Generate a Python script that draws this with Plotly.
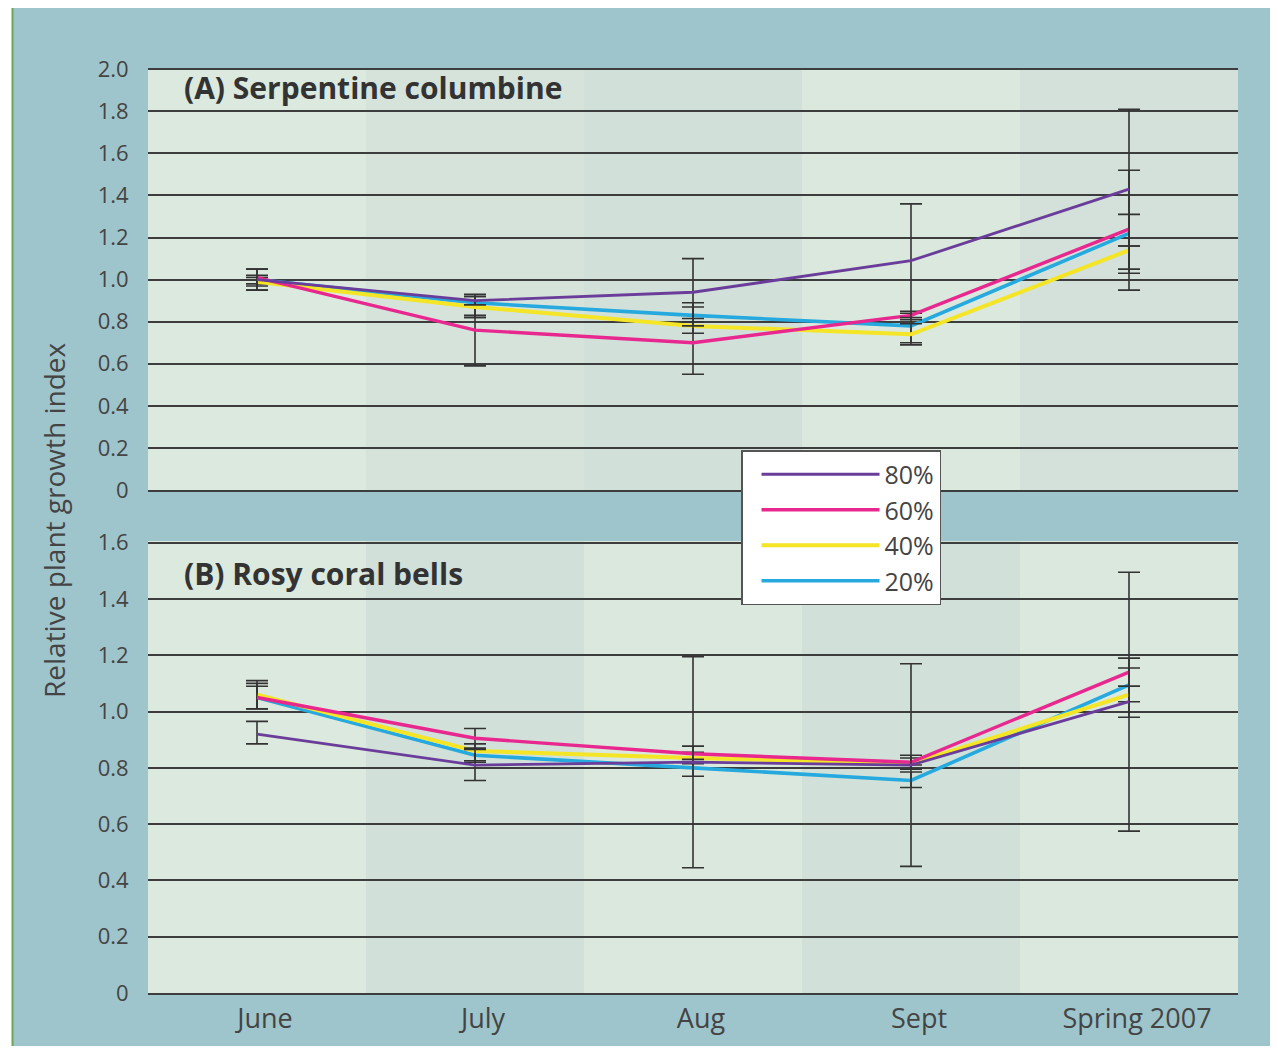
import plotly.graph_objects as go

months = ["June", "July", "Aug", "Sept", "Spring 2007"]
series = ["80%", "60%", "40%", "20%"]
colors = {"80%": "#6a3d9a", "60%": "#e8288f", "40%": "#f4e526", "20%": "#25a9de"}
widths = {"80%": 2.8, "60%": 3.4, "40%": 4.0, "20%": 3.6}

# Panel A: Serpentine columbine
a_vals = {
    "80%": [1.00, 0.90, 0.94, 1.09, 1.43],
    "60%": [1.01, 0.76, 0.70, 0.83, 1.24],
    "40%": [0.99, 0.87, 0.78, 0.74, 1.14],
    "20%": [1.00, 0.89, 0.83, 0.78, 1.22],
}
a_err_plus = {
    "80%": [0.05, 0.02, 0.16, 0.27, 0.38],
    "60%": [0.04, 0.07, 0.17, 0.02, 0.28],
    "40%": [0.02, 0.05, 0.035, 0.05, 0.02],
    "20%": [0.02, 0.04, 0.06, 0.06, 0.09],
}
a_err_minus = {
    "80%": [0.05, 0.02, 0.16, 0.27, 0.38],
    "60%": [0.06, 0.17, 0.15, 0.02, 0.29],
    "40%": [0.02, 0.05, 0.035, 0.05, 0.11],
    "20%": [0.02, 0.07, 0.03, 0.08, 0.06],
}

# Panel B: Rosy coral bells
b_vals = {
    "80%": [0.92, 0.81, 0.82, 0.81, 1.035],
    "60%": [1.05, 0.905, 0.85, 0.82, 1.14],
    "40%": [1.06, 0.86, 0.835, 0.815, 1.06],
    "20%": [1.05, 0.845, 0.80, 0.755, 1.095],
}
b_err_plus = {
    "80%": [0.045, 0.055, 0.375, 0.36, 0.46],
    "60%": [0.05, 0.035, 0.027, 0.025, 0.05],
    "40%": [0.05, 0.025, 0.02, 0.02, 0.03],
    "20%": [0.04, 0.02, 0.02, 0.03, 0.06],
}
b_err_minus = {
    "80%": [0.035, 0.055, 0.375, 0.36, 0.46],
    "60%": [0.04, 0.035, 0.02, 0.01, 0.05],
    "40%": [0.05, 0.04, 0.02, 0.02, 0.08],
    "20%": [0.04, 0.02, 0.03, 0.025, 0.06],
}

a_ticks = [0, 0.2, 0.4, 0.6, 0.8, 1.0, 1.2, 1.4, 1.6, 1.8, 2.0]
a_ticktext = ["0", "0.2", "0.4", "0.6", "0.8", "1.0", "1.2", "1.4", "1.6", "1.8", "2.0"]
b_ticks = [0, 0.2, 0.4, 0.6, 0.8, 1.0, 1.2, 1.4, 1.6]
b_ticktext = ["0", "0.2", "0.4", "0.6", "0.8", "1.0", "1.2", "1.4", "1.6"]

band_a = ["#dce9de", "#d5e3db", "#d1e0d9", "#dbe8dd", "#d3e1da"]
band_b = ["#dce9de", "#d2e0da", "#dbe8dd", "#d1e0d9", "#dbe8dd"]

# figure size (page body adds an 8px margin)
W, H = 1270, 1040
fig = go.Figure()

order = ["20%", "40%", "60%", "80%"]
for s in order:
    fig.add_trace(go.Scatter(
        x=months, y=a_vals[s], mode="lines", name=s,
        line=dict(color=colors[s], width=widths[s]),
        error_y=dict(type="data", array=a_err_plus[s], arrayminus=a_err_minus[s],
                     color="#333333", thickness=1.6, width=11),
        xaxis="x", yaxis="y", showlegend=True, legendgroup=s,
    ))
for s in order:
    fig.add_trace(go.Scatter(
        x=months, y=b_vals[s], mode="lines", name=s,
        line=dict(color=colors[s], width=widths[s]),
        error_y=dict(type="data", array=b_err_plus[s], arrayminus=b_err_minus[s],
                     color="#333333", thickness=1.6, width=11),
        xaxis="x2", yaxis="y2", showlegend=False, legendgroup=s,
    ))

shapes = []
shapes.append(dict(type="rect", xref="paper", yref="paper", x0=5 / W, x1=1262 / W,
                   y0=1 - 1038 / H, y1=1, fillcolor="#9fc5cc", line=dict(width=0), layer="below"))
shapes.append(dict(type="line", xref="paper", yref="paper", x0=4.5 / W, x1=4.5 / W,
                   y0=1 - 1038 / H, y1=1, line=dict(color="#6fa55a", width=2), layer="below"))
for i in range(len(months)):
    shapes.append(dict(type="rect", xref="x", yref="y domain", x0=i - 0.5, x1=i + 0.5,
                       y0=0, y1=1, fillcolor=band_a[i], line=dict(width=0), layer="below"))
    shapes.append(dict(type="rect", xref="x2", yref="y2 domain", x0=i - 0.5, x1=i + 0.5,
                       y0=0, y1=1, fillcolor=band_b[i], line=dict(width=0), layer="below"))

xdom = [140 / W, 1230 / W]
ya = [1 - 482 / H, 1 - 60 / H]
yb = [1 - 985 / H, 1 - 533 / H]

tickfont = dict(family="Open Sans", size=22, color="#444444")
common_y = dict(showgrid=True, gridcolor="#3d3d3d", gridwidth=1.7, zeroline=False,
                ticks="outside", ticklen=14, tickcolor="rgba(0,0,0,0)", tickfont=tickfont,
                showline=False, fixedrange=True, automargin=False)

fig.update_layout(
    width=W, height=H,
    margin=dict(l=0, r=0, t=0, b=0, pad=0, autoexpand=False),
    paper_bgcolor="white", plot_bgcolor="rgba(0,0,0,0)",
    shapes=shapes,
    xaxis=dict(domain=xdom, anchor="y", range=[-0.5, 4.5], showticklabels=False, automargin=False,
               showgrid=False, zeroline=False, showline=True, linecolor="#3d3d3d", linewidth=1.8),
    yaxis=dict(domain=ya, anchor="x", range=[0, 2.006], tickvals=a_ticks, ticktext=a_ticktext, **common_y),
    xaxis2=dict(domain=xdom, anchor="y2", range=[-0.5, 4.5], showgrid=False, zeroline=False,
                showline=True, linecolor="#3d3d3d", linewidth=1.8, automargin=False,
                tickfont=dict(family="Open Sans", size=27, color="#444444"),
                ticks="outside", ticklen=1, tickcolor="rgba(0,0,0,0)", ticklabelshift=8),
    yaxis2=dict(domain=yb, anchor="x2", range=[0, 1.606], tickvals=b_ticks, ticktext=b_ticktext, **common_y),
    legend=dict(x=733 / W, y=1 - 442 / H, xanchor="left", yanchor="top",
                bgcolor="white", bordercolor="#555555", borderwidth=1.5,
                font=dict(family="Open Sans", size=25, color="#444444"),
                traceorder="reversed", itemwidth=118, tracegroupgap=0,
                indentation=14),
    annotations=[
        dict(text="<b>(A) Serpentine columbine</b>", xref="paper", yref="paper",
             x=174 / W, y=1 - 80 / H, xanchor="left", yanchor="middle", showarrow=False,
             font=dict(family="Open Sans", size=30, color="#333333")),
        dict(text="<b>(B) Rosy coral bells</b>", xref="paper", yref="paper",
             x=174 / W, y=1 - 565 / H, xanchor="left", yanchor="middle", showarrow=False,
             font=dict(family="Open Sans", size=30, color="#333333")),
        dict(text="Relative plant growth index", xref="paper", yref="paper",
             x=46 / W, y=1 - 512 / H, xanchor="center", yanchor="middle", showarrow=False,
             textangle=-90, font=dict(family="Open Sans", size=28, color="#444444")),
    ],
)

fig.write_html("out.html")
